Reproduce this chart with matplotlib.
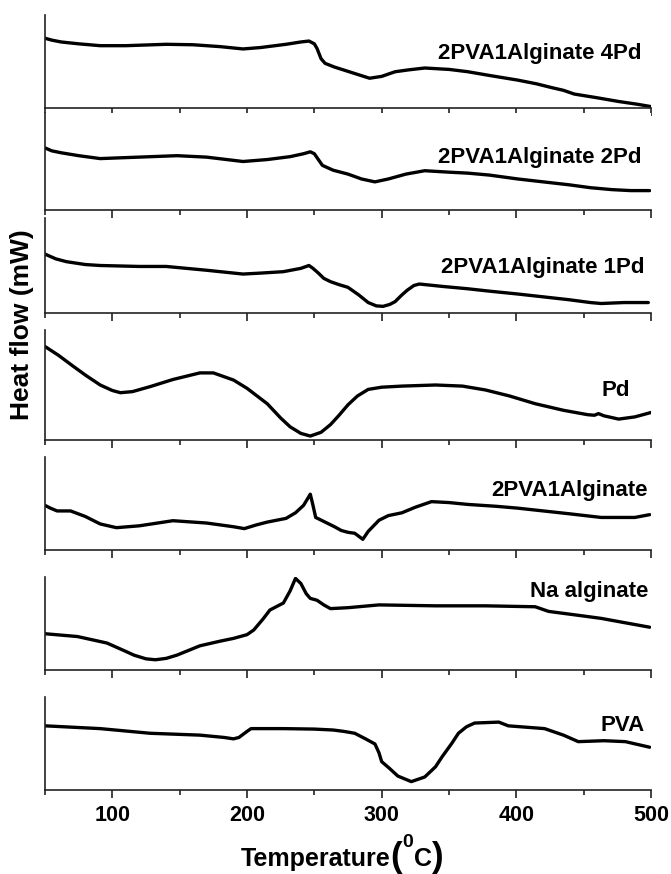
import matplotlib.pyplot as plt
from matplotlib.ticker import MultipleLocator, NullFormatter

plt.rcParams['font.family'] = ['Liberation Sans', 'DejaVu Sans']
plt.rcParams['font.weight'] = 'bold'

# heat flow (arbitrary units, 0 = panel bottom, 1 = panel top)
t_4pd = [50, 55, 62, 75, 91, 110, 140, 160, 180, 197, 210, 229, 240, 246, 250, 252, 255, 258, 265,
         278, 291, 300, 310, 320, 332, 350, 364, 380, 401, 415, 426, 435, 443, 460, 476, 490, 500]
hf_4pd = [0.75, 0.73, 0.71, 0.69, 0.67, 0.67, 0.685, 0.68, 0.66, 0.635, 0.65, 0.685, 0.71, 0.72, 0.69,
          0.64, 0.53, 0.48, 0.44, 0.38, 0.32, 0.34, 0.39, 0.41, 0.43, 0.415, 0.39, 0.35, 0.30, 0.26,
          0.22, 0.19, 0.15, 0.11, 0.07, 0.04, 0.015]

t_2pd = [50, 55, 62, 75, 91, 110, 148, 170, 197, 215, 232, 242, 247, 250, 253, 256, 264, 275, 285,
         295, 305, 318, 332, 350, 364, 380, 401, 420, 439, 455, 471, 485, 499]
hf_2pd = [0.64, 0.61, 0.59, 0.56, 0.53, 0.54, 0.56, 0.545, 0.50, 0.52, 0.55, 0.58, 0.60, 0.58, 0.52,
          0.46, 0.41, 0.37, 0.32, 0.29, 0.32, 0.37, 0.405, 0.39, 0.38, 0.36, 0.32, 0.29, 0.26, 0.23,
          0.21, 0.20, 0.20]

t_1pd = [50, 58, 66, 80, 91, 120, 140, 170, 197, 210, 227, 240, 246, 249, 253, 257, 262, 268, 275,
         283, 290, 296, 301, 306, 310, 315, 319, 324, 328, 345, 364, 380, 401, 420, 439, 455, 463,
         480, 498]
hf_1pd = [0.62, 0.57, 0.54, 0.51, 0.50, 0.49, 0.49, 0.45, 0.41, 0.42, 0.435, 0.47, 0.50, 0.47, 0.42,
          0.365, 0.33, 0.30, 0.27, 0.19, 0.11, 0.075, 0.07, 0.09, 0.12, 0.19, 0.24, 0.29, 0.305,
          0.28, 0.255, 0.23, 0.20, 0.17, 0.14, 0.11, 0.10, 0.11, 0.11]

t_pd = [50, 60, 71, 80, 91, 100, 106, 115, 128, 145, 165, 175, 190, 200, 215, 225, 232, 240, 247,
        255, 262, 268, 275, 282, 290, 300, 315, 340, 360, 377, 395, 414, 435, 453, 458, 461, 465,
        476, 488, 500]
hf_pd = [0.85, 0.77, 0.67, 0.59, 0.50, 0.45, 0.43, 0.44, 0.485, 0.55, 0.61, 0.61, 0.545, 0.47, 0.33,
         0.20, 0.12, 0.06, 0.036, 0.07, 0.14, 0.22, 0.32, 0.40, 0.46, 0.48, 0.49, 0.50, 0.49, 0.455,
         0.40, 0.33, 0.27, 0.23, 0.225, 0.24, 0.22, 0.19, 0.21, 0.25]

t_blend = [50, 54, 59, 69, 80, 91, 103, 120, 145, 170, 190, 198, 207, 215, 229, 236, 242, 247, 249,
           251, 258, 265, 270, 275, 280, 286, 290, 298, 305, 315, 325, 337, 350, 364, 385, 401, 420,
           439, 463, 488, 499]
hf_blend = [0.48, 0.45, 0.42, 0.42, 0.36, 0.28, 0.24, 0.26, 0.315, 0.29, 0.25, 0.23, 0.27, 0.30, 0.34,
            0.40, 0.48, 0.60, 0.48, 0.35, 0.30, 0.25, 0.21, 0.19, 0.18, 0.115, 0.20, 0.32, 0.37, 0.40,
            0.46, 0.52, 0.51, 0.49, 0.47, 0.45, 0.42, 0.39, 0.35, 0.35, 0.38]

t_alg = [50, 74, 96, 110, 116, 125, 132, 140, 148, 165, 180, 190, 200, 205, 212, 217, 227, 232, 236,
         240, 244, 247, 252, 257, 262, 275, 298, 340, 377, 414, 424, 445, 463, 480, 499]
hf_alg = [0.39, 0.36, 0.29, 0.20, 0.16, 0.12, 0.11, 0.125, 0.16, 0.26, 0.31, 0.34, 0.38, 0.43, 0.55,
          0.645, 0.72, 0.85, 0.985, 0.93, 0.82, 0.77, 0.75, 0.70, 0.66, 0.67, 0.70, 0.69, 0.69, 0.68,
          0.63, 0.59, 0.555, 0.51, 0.46]

t_pva = [50, 91, 128, 165, 183, 190, 194, 200, 203, 227, 250, 264, 272, 280, 288, 295, 298, 300, 306,
         312, 322, 332, 340, 345, 352, 357, 363, 369, 387, 394, 421, 435, 446, 465, 481, 490, 499]
hf_pva = [0.69, 0.66, 0.61, 0.59, 0.565, 0.55, 0.565, 0.63, 0.66, 0.66, 0.655, 0.645, 0.63, 0.61, 0.55,
          0.495, 0.40, 0.305, 0.23, 0.15, 0.09, 0.14, 0.25, 0.36, 0.50, 0.61, 0.68, 0.72, 0.73, 0.69,
          0.66, 0.59, 0.52, 0.53, 0.52, 0.49, 0.46]

names = ['2PVA1Alginate 4Pd', '2PVA1Alginate 2Pd', '2PVA1Alginate 1Pd', 'Pd',
         '2PVA1Alginate', 'Na alginate', 'PVA']
temps = [t_4pd, t_2pd, t_1pd, t_pd, t_blend, t_alg, t_pva]
flows = [hf_4pd, hf_2pd, hf_1pd, hf_pd, hf_blend, hf_alg, hf_pva]

# panel placement in pixels (top, bottom) and label position (x frac, y frac)
W, H = 671, 874
panels = [(15, 108), (113, 210), (218, 313), (330, 440), (457, 550), (577, 670), (697, 790)]
label_pos = [(0.985, 0.59), (0.985, 0.54), (0.99, 0.48), (0.965, 0.45), (0.995, 0.64), (0.995, 0.84), (0.99, 0.69)]

fig = plt.figure(figsize=(W / 100, H / 100), dpi=100)
x0, x1 = 45, 651
axes = []
for i, (top, bot) in enumerate(panels):
    ax = fig.add_axes([x0 / W, 1 - bot / H, (x1 - x0) / W, (bot - top) / H])
    ax.plot(temps[i], flows[i], color='black', lw=2.4, solid_joinstyle='round', solid_capstyle='round')
    ax.set_xlim(50, 500)
    ax.set_ylim(0, 1)
    ax.spines['top'].set_visible(False)
    ax.spines['right'].set_visible(False)
    for s in ('left', 'bottom'):
        ax.spines[s].set_linewidth(1.2)
        ax.spines[s].set_color('#222222')
    ax.set_yticks([])
    ax.xaxis.set_major_locator(MultipleLocator(100))
    ax.xaxis.set_minor_locator(MultipleLocator(50))
    ax.tick_params(axis='x', which='major', direction='out', length=6, width=1.2, color='#222222',
                   labelsize=15.5, pad=5)
    ax.tick_params(axis='x', which='minor', direction='out', length=3.5, width=1.2, color='#222222')
    lx, ly = label_pos[i]
    ax.text(lx, ly, names[i], transform=ax.transAxes, ha='right', va='center',
            fontsize=16, fontweight='bold')
    if i < len(panels) - 1:
        ax.xaxis.set_major_formatter(NullFormatter())
    axes.append(ax)

for lab in axes[-1].get_xticklabels():
    lab.set_fontweight('bold')

# x label built from pieces so the brackets come out tall, as in the original
renderer = fig.canvas.get_renderer()
pieces = [('Temperature', 18, 866), ('(', 25, 867), ('0', 14, 847), ('C', 18, 866), (')', 25, 867)]
xpos = 241
for txt, size, base in pieces:
    t = fig.text(xpos / W, 1 - base / H, txt, ha='left', va='baseline', fontsize=size, fontweight='bold')
    xpos += t.get_window_extent(renderer).width + (1 if txt == '0' else 0)

fig.text(22 / W, 1 - 325 / H, 'Heat flow (mW)', rotation=90, ha='center', va='center',
         fontsize=19, fontweight='bold')

fig.savefig('out.png', dpi=100)
